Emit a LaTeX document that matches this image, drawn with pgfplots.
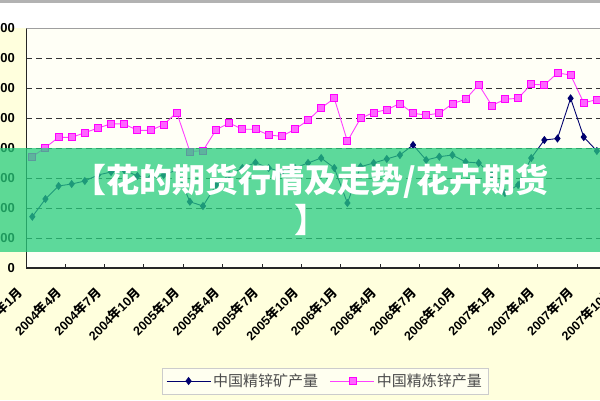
\documentclass[border=0pt]{standalone}
\usepackage{pgfplots}
\pgfplotsset{compat=1.18}
\usepackage{fontspec}
\setmainfont{Liberation Sans}
\newfontfamily\cjk{Noto Sans CJK SC}
\definecolor{bgyellow}{RGB}{255,255,221}
\definecolor{plotbg}{RGB}{255,255,246}
\definecolor{navyline}{RGB}{0,0,110}
\definecolor{mag}{RGB}{255,0,255}
\definecolor{band}{RGB}{40,205,125}
\newcommand{\lab}[2]{#1{\cjk 年}#2{\cjk 月}}

\pgfplotstableread{
i mine refined
0 85500 185500
1 115000 200800
2 136700 217800
3 140000 217800
4 145000 225500
5 155000 233300
6 160000 240300
7 163300 240000
8 153300 229500
9 150000 229500
10 155000 238800
11 163300 259200
12 110500 194200
13 103300 195500
14 138300 230500
15 155000 241700
16 166700 231200
17 175500 231200
18 166700 221700
19 160000 219500
20 166700 231300
21 175000 246200
22 183300 266700
23 166700 282800
24 108300 211200
25 168800 249500
26 175000 259200
27 181700 263800
28 188300 274200
29 205000 257800
30 180000 255000
31 185500 257800
32 188300 273800
33 176700 281200
34 175000 305500
35 155000 270800
36 125000 281200
37 138300 282800
38 183300 306300
39 213300 305000
40 215800 325000
41 282800 321700
42 218300 275300
43 195000 280700
}\datatable

\begin{document}
\begin{tikzpicture}[x=1pt,y=1pt]
\useasboundingbox (0,0) rectangle (600,400);
\clip (0,0) rectangle (600,400);
\fill[bgyellow] (0,0) rectangle (600,400);
\fill[white] (0,372) rectangle (600,397);
\fill[gray!60] (0,397) rectangle (600,400);
\begin{axis}[
  scale only axis, width=603.3pt, height=240pt,
  at={(26.4pt,132pt)}, anchor=south west,
  xmin=-0.45, xmax=45.5, ymin=0, ymax=400000,
  axis background/.style={fill=plotbg},
  axis x line=bottom, axis y line=left,
  axis line style={-, black!85, line width=1.2pt},
  ytick={0,50000,...,400000},
  scaled y ticks=false,
  /pgf/number format/.cd, fixed, set thousands separator={}, assume math mode=true,
  /pgfplots/.cd,
  ymajorgrids,
  grid style={black!80, line width=0.8pt, dash pattern=on 6pt off 4pt},
  yticklabel style={font=\bfseries\fontsize{13}{13}\selectfont, anchor=east, xshift=-8pt},
  major y tick style={draw=none},
  xtick={0,3,...,45},
  xticklabels={\lab{2004}{1},\lab{2004}{4},\lab{2004}{7},\lab{2004}{10},
    \lab{2005}{1},\lab{2005}{4},\lab{2005}{7},\lab{2005}{10},
    \lab{2006}{1},\lab{2006}{4},\lab{2006}{7},\lab{2006}{10},
    \lab{2007}{1},\lab{2007}{4},\lab{2007}{7},\lab{2007}{10}},
  major x tick style={draw=none},
  minor xtick={2.5,5.5,...,44.5},
  minor tick length=4pt, tick align=inside,
  minor x tick style={black!85, line width=1pt},
  xticklabel style={font=\bfseries\fontsize{12.5}{12.5}\selectfont, xshift=-10pt, yshift=-20pt, rotate=45, anchor=east},
  legend columns=2,
  legend style={at={(0.495,-0.471)}, anchor=center, draw=gray!40, fill=white!55!bgyellow,
    font=\cjk\fontsize{15}{15}\selectfont, text=black!70, inner sep=4pt,
    /tikz/every even column/.append style={column sep=10pt}},
  legend image code/.code={\draw[mark repeat=2,mark phase=2] plot coordinates {(0pt,0pt)(22pt,0pt)(44pt,0pt)};},
]
\addplot[color=navyline, line width=0.9pt, mark=diamond*, mark size=3.4pt, mark options={fill=navyline, solid}] table[x=i, y=mine] {\datatable};
\addlegendentry{中国精锌矿产量}
\addplot[color=mag!75!white, line width=0.9pt, mark=square*, mark size=3.5pt, mark options={draw=mag, fill=mag!60!white, solid}] table[x=i, y=refined] {\datatable};
\addlegendentry{中国精炼锌产量}
\draw[gray!75, line width=1pt] (axis cs:-0.45,400000) -- (axis cs:45.5,400000);
\end{axis}
\fill[band, opacity=0.75] (0,148) rectangle (600,252);
\node[align=center, text=white, font=\cjk\bfseries\fontsize{33}{40}\selectfont] at (311,200) {【花的期货行情及走势/花卉期货\\】};
\end{tikzpicture}
\end{document}
